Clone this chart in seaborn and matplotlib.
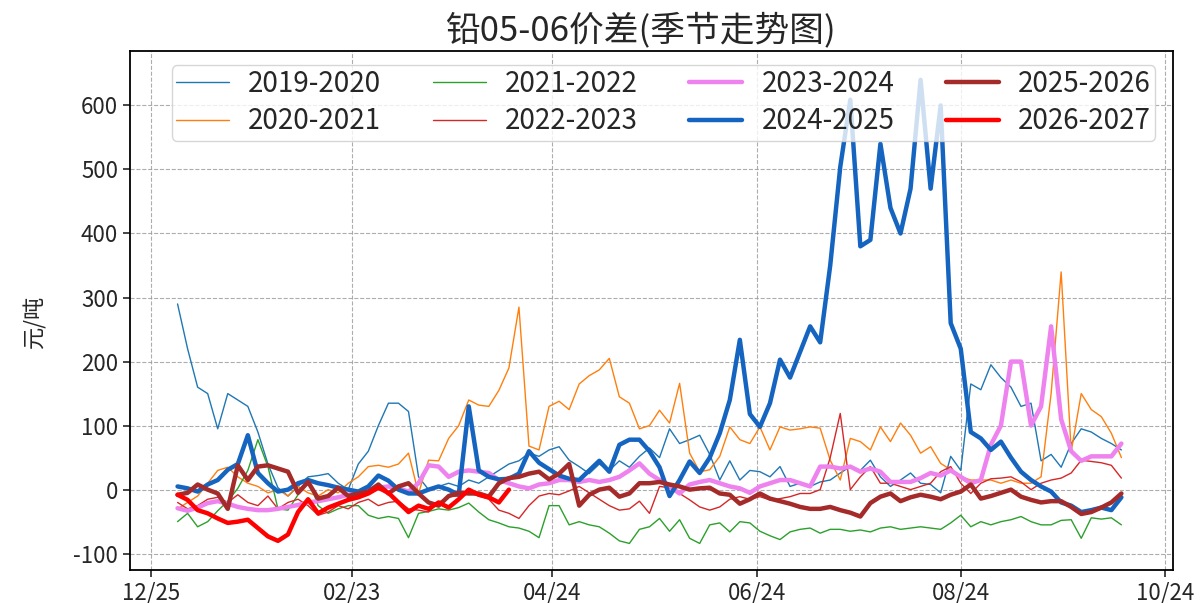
import numpy as np
import pandas as pd
import matplotlib
matplotlib.use("Agg")
import matplotlib.pyplot as plt
import matplotlib.dates as mdates
import seaborn as sns

# ---------------- data ----------------
DATES = pd.date_range("2025-01-02", periods=95, freq="3D")   # common seasonal date axis

SEASONS = ["2019-2020", "2020-2021", "2021-2022", "2022-2023",
           "2023-2024", "2024-2025", "2025-2026", "2026-2027"]

S_2019_2020 = [290, 220, 160, 150, 95, 150, 140, 130, 90, 40,
               3, -10, 5, 20, 22, 25, 10, 0, 40, 60,
               100, 135, 135, 122, 20, 0, 5, 10, 5, 15,
               10, 20, 30, 40, 45, 57, 52, 62, 67, 46,
               36, 25, 40, 30, 45, 35, 52, 65, 50, 95,
               72, 78, 85, 55, 15, 45, 15, 30, 28, 20,
               36, 5, 10, 5, 12, 15, 26, 36, 30, 46,
               20, 5, 15, 26, 10, 8, -5, 52, 30, 165,
               156, 195, 175, 160, 130, 135, 45, 55, 35, 72,
               95, 90, 80, 72, 62]

S_2020_2021 = [-30, -20, -10, 10, 30, 35, 20, 10, 5, -5,
               0, -10, 5, -5, -10, 0, -5, 10, 20, 36,
               38, 35, 40, 57, -6, 46, 45, 80, 100, 140,
               132, 130, 155, 190, 285, 68, 62, 130, 138, 125,
               165, 178, 187, 205, 145, 135, 95, 100, 124, 104,
               166, 57, 28, 31, 52, 98, 78, 72, 98, 62,
               98, 93, 95, 98, 96, 46, 15, 80, 75, 62,
               98, 75, 104, 85, 57, 67, 41, 31, 20, 15,
               15, 15, 10, 15, 10, 10, 20, 150, 340, 60,
               150, 125, 114, 88, 50]

S_2021_2022 = [-50, -37, -58, -50, -33, -18, 2, 30, 78, 36,
               -30, -32, -8, 18, -25, -37, -30, -25, -25, -40,
               -45, -42, -45, -75, -37, -34, -30, -32, -28, -21,
               -35, -47, -52, -58, -60, -65, -75, -25, -25, -55,
               -50, -55, -58, -68, -80, -84, -62, -58, -45, -65,
               -47, -76, -84, -55, -52, -66, -50, -52, -65, -72,
               -78, -66, -62, -60, -68, -62, -62, -65, -63, -66,
               -60, -58, -62, -60, -58, -60, -62, -52, -40, -58,
               -50, -55, -50, -47, -42, -50, -55, -55, -48, -47,
               -76, -44, -46, -44, -55]

S_2022_2023 = [-20, -30, -25, -15, -12, -20, -8, -20, -25, -10,
               -30, -20, -15, -25, -40, -35, -25, -30, -20, -15,
               -25, -20, -18, -30, -32, -35, -20, -11, -10, -5,
               -10, -15, -32, -37, -45, -25, -10, -6, -8, -2,
               5, -5, -15, -25, -32, -30, -18, -37, 5, 3,
               -6, -16, -27, -32, -27, -15, -11, -15, -11, -16,
               -14, -11, -6, -6, 0, 50, 119, 0, 20, 36,
               10, 10, 5, 0, 5, 10, 28, 36, 10, -6,
               10, 17, 18, 20, 12, 0, 10, 15, 18, 26,
               46, 44, 42, 38, 18]

S_2023_2024 = [-29, -33, -28, -21, -18, -22, -27, -30, -32, -32,
               -30, -27, -24, -20, -18, -15, -12, -8, -5, 0,
               3, 5, 2, -3, 10, 38, 36, 20, 28, 30,
               28, 26, 15, 10, 5, 2, 8, 10, 15, 15,
               12, 15, 12, 15, 20, 30, 41, 25, 15, 5,
               -6, 8, 12, 15, 10, 5, 2, -5, 5, 10,
               15, 15, 10, 5, 36, 36, 33, 36, 28, 33,
               28, 12, 12, 12, 18, 26, 22, 30, 20, 10,
               15, 70, 100, 200, 200, 100, 130, 255, 110, 60,
               45, 52, 52, 52, 72]

S_2024_2025 = [5, 2, -3, 8, 15, 31, 40, 85, 26, 10,
               -3, 0, 10, 15, 10, 7, 3, 0, -3, 5,
               22, 14, 0, -6, -6, 0, 5, 0, -8, 130,
               30, 20, 16, 17, 25, 60, 42, 32, 22, 17,
               15, 30, 45, 28, 70, 78, 78, 60, 35, -10,
               15, 44, 26, 50, 88, 140, 234, 118, 98, 135,
               203, 175, 215, 255, 230, 350, 504, 609, 380, 390,
               540, 440, 400, 470, 640, 470, 600, 260, 220, 90,
               80, 62, 75, 50, 28, 15, 5, -3, -20, -25,
               -35, -32, -28, -32, -12]

S_2025_2026 = [-8, -5, 8, 0, -6, -30, 38, 15, 36, 38,
               33, 28, -5, 12, -14, -10, 3, -10, -6, -3,
               8, -6, 5, 10, -6, -20, -25, -10, -5, -6,
               -6, -11, 10, 18, 20, 25, 28, 16, 25, 40,
               -25, -8, 0, 3, -11, -6, 10, 10, 12, 8,
               5, 0, 2, 3, -6, -8, -22, -15, -6, -14,
               -18, -22, -27, -30, -30, -27, -32, -36, -42, -21,
               -11, -6, -18, -12, -8, -11, -15, -8, -3, 8,
               -14, -10, -5, 0, -11, -16, -20, -18, -18, -27,
               -38, -35, -28, -20, -6]

S_2026_2027 = [-8, -16, -32, -37, -45, -52, -50, -47, -60, -73,
               -80, -70, -35, -15, -37, -28, -22, -16, -12, -6,
               3, -5, -20, -35, -25, -30, -20, -28, -15, 0,
               -8, -12, -20, 0]

SERIES = [S_2019_2020, S_2020_2021, S_2021_2022, S_2022_2023,
          S_2023_2024, S_2024_2025, S_2025_2026, S_2026_2027]

TICK_DATES = ["2024-12-25", "2025-02-23", "2025-04-24",
              "2025-06-24", "2025-08-24", "2025-10-24"]
Y_TICKS = [-100, 0, 100, 200, 300, 400, 500, 600]

TITLE = "铅05-06价差(季节走势图)"
Y_LABEL = "元/吨"

# ---------------- styling ----------------
COLORS = ["#1f77b4", "#ff7f0e", "#2ca02c", "#d62728",
          "#ee82ee", "#1565c0", "#a52a2a", "#ff0000"]
WIDTHS = [1.0, 1.0, 1.0, 1.0, 3.2, 3.2, 3.2, 3.2]

sns.set_style("ticks")
plt.rcParams["font.family"] = ["Noto Sans CJK SC", "DejaVu Sans"]
plt.rcParams["axes.unicode_minus"] = False

fig = plt.figure(figsize=(12.01, 6.03), dpi=100)
ax = fig.add_axes([130 / 1201, 1 - 570 / 603, (1173 - 130) / 1201, (570 - 51) / 603])

for name, vals, col, lw in zip(SEASONS, SERIES, COLORS, WIDTHS):
    df = pd.DataFrame({"date": DATES[:len(vals)], "value": vals})
    sns.lineplot(data=df, x="date", y="value", ax=ax, color=col,
                 linewidth=lw, label=name, estimator=None, sort=False)

ax.set_xlim(pd.Timestamp("2024-12-18 19:00"), pd.Timestamp("2025-10-26 10:00"))
ax.set_ylim(-125.5, 685)
ax.set_xticks(pd.to_datetime(TICK_DATES))
ax.xaxis.set_major_formatter(mdates.DateFormatter("%m/%d"))
ax.set_yticks(Y_TICKS)
ax.tick_params(labelsize=16, length=5, width=1.2)
ax.set_xlabel("")
ax.set_ylabel(Y_LABEL, fontsize=16)
ax.yaxis.set_label_coords(-0.080, 0.48)
fig.text(640 / 1201, 1 - 30 / 603, TITLE, fontsize=25, ha="center", va="center")
ax.grid(True, linestyle="--", color="#999999", linewidth=0.8, alpha=0.8)
for sp in ax.spines.values():
    sp.set_visible(True)
    sp.set_color("black")
    sp.set_linewidth(1.3)

ax.legend(loc="upper center", bbox_to_anchor=(0.5115, 0.973), borderaxespad=0,
          ncol=4, fontsize=20, handlelength=1.9, handletextpad=0.7,
          columnspacing=1.85, labelspacing=0.26, borderpad=0.15,
          frameon=True, framealpha=0.8)

fig.savefig("out.png", dpi=100)
